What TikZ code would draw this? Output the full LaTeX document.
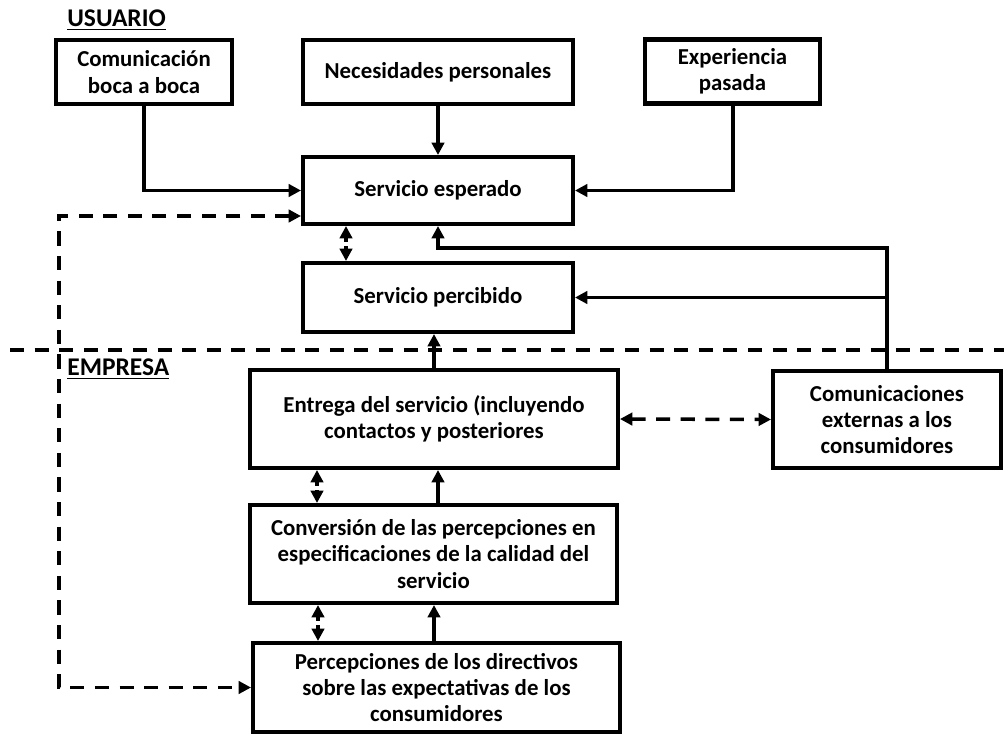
\documentclass[tikz,border=0pt]{standalone}
\usepackage{fontspec}
\setmainfont{Carlito}
\usetikzlibrary{arrows.meta}

\tikzset{
	box/.style={draw, line width=2.3pt, align=center, inner sep=2pt, font=\bfseries\fontsize{13}{15}\selectfont},
	title/.style={anchor=west, inner sep=0pt, font=\bfseries\fontsize{14.5}{17}\selectfont},
	link/.style={line width=2pt, arrows={-Triangle[length=7pt,width=7pt]}},
	dashlink/.style={line width=2pt, dash pattern=on 8pt off 6pt},
	dotlink/.style={line width=2pt, dash pattern=on 2.5pt off 2.5pt, arrows={Triangle[length=7pt,width=7pt]-Triangle[length=7pt,width=7pt]}}
}

\begin{document}
\begin{tikzpicture}[x=0.02cm, y=-0.02cm]
			\useasboundingbox (0,0) rectangle (1004,740);
			% usuario
			\node[title] (usuario) at (67,20) {\underline{USUARIO}};
			\node[box, minimum width=3.52cm, minimum height=1.28cm] (boca) at (144,72) {Comunicación\\boca a boca};
			\node[box, minimum width=5.4cm, minimum height=1.28cm] (necesidades) at (438,72) {Necesidades personales};
			\node[box, minimum width=3.5cm, minimum height=1.28cm] (experiencia) at (732.5,71.5) {Experiencia\\pasada};
			\node[box, minimum width=5.4cm, minimum height=1.34cm] (esperado) at (438,190.5) {Servicio esperado};
			\node[box, minimum width=5.4cm, minimum height=1.38cm] (percibido) at (438,297.5) {Servicio percibido};
			% empresa
			\node[title] (empresa) at (67,369) {\underline{EMPRESA}};
			\node[box, minimum width=7.36cm, minimum height=1.96cm] (entrega) at (434,419) {Entrega del servicio (incluyendo\\contactos y posteriores};
			\node[box, minimum width=4.56cm, minimum height=1.94cm] (externas) at (887,419.5) {Comunicaciones\\externas a los\\consumidores};
			\node[box, minimum width=7.34cm, minimum height=1.96cm] (conversion) at (433.5,554) {Conversión de las percepciones en\\especificaciones de la calidad del\\servicio};
			\node[box, minimum width=7.34cm, minimum height=1.78cm] (directivos) at (436.5,687.5) {Percepciones de los directivos\\sobre las expectativas de los\\consumidores};
			% frontera
			\coordinate (sepL) at (10,350);
			\coordinate (sepR) at (1004,350);
			\draw[dashlink] (sepL) -- (sepR);
			% entradas al servicio esperado
			\draw[link] (boca.south) |- (esperado.west);
			\draw[link] (necesidades.south) -- (esperado.north);
			\draw[link] (experiencia.south -| 733,0) |- (esperado.east);
			\coordinate (giro) at (externas.north |- 0,248);
			\draw[link] (externas.north) -- (giro) -| (esperado.south);
			\draw[link] (externas.north |- percibido.east) -- (percibido.east);
			% brecha
			\coordinate (espIn) at (esperado.west |- 0,216);
			\coordinate (rail) at (59,0);
			\draw[dashlink, arrows={Triangle[length=7pt,width=7pt]-Triangle[length=7pt,width=7pt]}] (espIn) -- (espIn -| rail) -- (directivos.west -| rail) -- (directivos.west);
			\draw[dashlink, arrows={Triangle[length=7pt,width=7pt]-Triangle[length=7pt,width=7pt]}] (entrega.east) -- (externas.west);
			% flujo de la empresa
			\draw[link] (entrega.north) -- (entrega.north |- percibido.south);
			\draw[link] (conversion.north -| 438,0) -- (entrega.south -| 438,0);
			\draw[link] (directivos.north -| 434,0) -- (conversion.south -| 434,0);
			% relaciones punteadas
			\draw[dotlink] (esperado.south -| 346,0) -- (percibido.north -| 346,0);
			\draw[dotlink] (entrega.south -| 317,0) -- (conversion.north -| 317,0);
			\draw[dotlink] (conversion.south -| 318,0) -- (directivos.north -| 318,0);
		\end{tikzpicture}
\end{document}
